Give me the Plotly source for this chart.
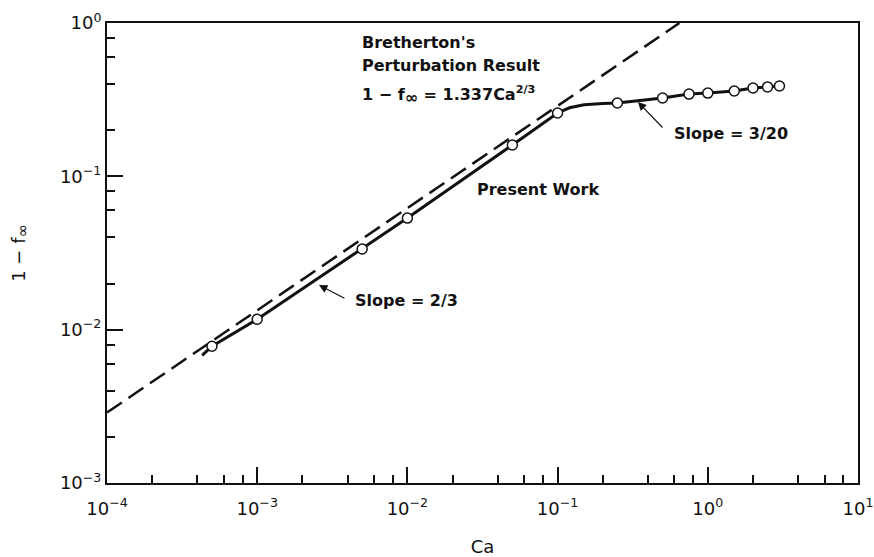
import plotly.graph_objects as go

# ---- data ----
marker_ca = [5e-4, 1e-3, 5e-3, 1e-2, 5e-2, 0.1, 0.25, 0.5, 0.75, 1.0, 1.5, 2.0, 2.5, 3.0]
marker_f = [0.0078, 0.0117, 0.0336, 0.0534, 0.160, 0.259, 0.301, 0.324, 0.344, 0.349, 0.360, 0.377, 0.383, 0.388]

curve_ca = [4.3e-4, 5e-4, 1e-3, 5e-3, 1e-2, 5e-2, 0.1, 0.12, 0.15, 0.2, 0.25, 0.5, 0.75, 1.0, 1.5, 2.0, 2.5, 3.0]
curve_f = [0.0068, 0.0078, 0.0117, 0.0336, 0.0534, 0.160, 0.259, 0.280, 0.293, 0.299, 0.301, 0.324, 0.344, 0.349, 0.360, 0.377, 0.383, 0.388]

bretherton_ca = [1e-4, 0.647]
bretherton_f = [0.00288, 1.0]

x_tickvals = [1e-4, 1e-3, 1e-2, 1e-1, 1e0, 1e1]
x_ticktext = ["10<sup>−4</sup>", "10<sup>−3</sup>", "10<sup>−2</sup>", "10<sup>−1</sup>", "10<sup>0</sup>", "10<sup>1</sup>"]
y_tickvals = [1e-3, 1e-2, 1e-1, 1e0]
y_ticktext = ["10<sup>−3</sup>", "10<sup>−2</sup>", "10<sup>−1</sup>", "10<sup>0</sup>"]
minor_mult = [2, 4, 6, 8]

x_minor = [m * d for d in [1e-4, 1e-3, 1e-2, 1e-1, 1e0] for m in minor_mult]
y_minor = [m * d for d in [1e-3, 1e-2, 1e-1] for m in minor_mult]

FONT = "DejaVu Sans"
BLACK = "#111111"
INF = '<span style="font-size:16px">∞</span>'

fig = go.Figure()
fig.add_trace(go.Scatter(x=bretherton_ca, y=bretherton_f, mode="lines",
                         line=dict(color=BLACK, width=2.5, dash="18px,8px"),
                         showlegend=False, hoverinfo="skip"))
fig.add_trace(go.Scatter(x=curve_ca, y=curve_f, mode="lines",
                         line=dict(color=BLACK, width=3),
                         showlegend=False, hoverinfo="skip"))
fig.add_trace(go.Scatter(x=marker_ca, y=marker_f, mode="markers",
                         marker=dict(size=10, color="white", line=dict(color=BLACK, width=1.5)),
                         showlegend=False))

axis_common = dict(
    type="log", showgrid=False, zeroline=False, showline=True, linecolor=BLACK,
    linewidth=2, mirror=True, ticks="inside", ticklen=16, tickwidth=2, tickcolor=BLACK,
    tickfont=dict(family=FONT, size=18, color=BLACK), automargin=False,
)

fig.update_layout(
    width=874, height=557,
    margin=dict(l=107, r=16, t=23, b=74),
    paper_bgcolor="white", plot_bgcolor="white",
    font=dict(family=FONT, color=BLACK),
    xaxis=dict(**axis_common, range=[-4, 1], tickmode="array", tickvals=x_tickvals, ticktext=x_ticktext,
               ticklabelstandoff=8,
               minor=dict(tickmode="array", tickvals=x_minor, ticks="inside", ticklen=8, tickwidth=1.5, tickcolor=BLACK),
               title=dict(text="Ca", font=dict(family=FONT, size=18, color=BLACK), standoff=26)),
    yaxis=dict(**axis_common, range=[-3, 0], tickmode="array", tickvals=y_tickvals, ticktext=y_ticktext,
               minor=dict(tickmode="array", tickvals=y_minor, ticks="inside", ticklen=8, tickwidth=1.5, tickcolor=BLACK),
               title=dict(text="1 − f<sub>" + INF + "</sub>", font=dict(family=FONT, size=18, color=BLACK), standoff=30)),
)

tfont = dict(family=FONT, size=16, color=BLACK, weight="bold")
texts = [
    ("Bretherton's", -2.316, -0.130),
    ("Perturbation Result", -2.316, -0.280),
    ("1 − f<sub>" + INF + "</sub> = 1.337Ca<sup>2/3</sup>", -2.316, -0.470),
    ("Present Work", -1.550, -1.089),
    ("Slope = 2/3", -2.362, -1.807),
    ("Slope = 3/20", -0.238, -0.718),
]
for t, x, y in texts:
    fig.add_annotation(text=t, x=x, y=y, xref="x", yref="y", xanchor="left", yanchor="middle",
                       showarrow=False, font=tfont)

for x, y, ax, ay in [(-2.589, -1.709, 27, 14), (-0.465, -0.515, 26, 27)]:
    fig.add_annotation(text="", x=x, y=y, xref="x", yref="y", ax=ax, ay=ay,
                       showarrow=True, arrowhead=2, arrowsize=1.4, arrowwidth=1.2, arrowcolor=BLACK)

fig.write_html("out.html")
